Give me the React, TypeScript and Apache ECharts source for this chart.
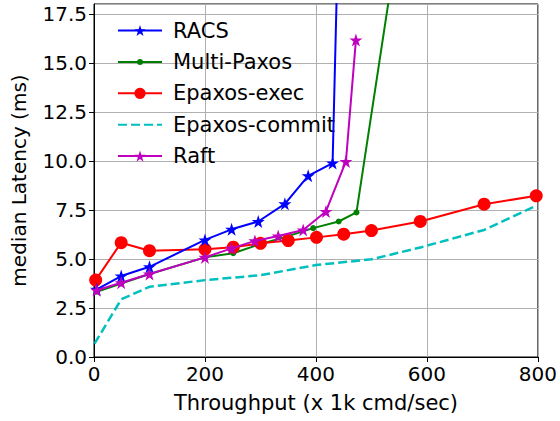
import React, { useEffect, useRef } from "react";
import * as echarts from "echarts";

const racsX = [5, 49, 100, 200, 248, 296, 344, 386, 430, 440];
const racsY = [3.45, 4.13, 4.6, 5.97, 6.51, 6.91, 7.81, 9.24, 9.89, 21.5];

const paxosX = [5, 49, 100, 200, 251, 299, 347, 395, 441, 473, 550];
const paxosY = [3.33, 3.75, 4.23, 5.08, 5.29, 5.75, 6.14, 6.57, 6.91, 7.37, 21.7];

const execX = [3, 49, 100, 200, 251, 300, 350, 401, 450, 500, 588, 703, 797];
const execY = [3.92, 5.83, 5.42, 5.49, 5.6, 5.8, 5.94, 6.1, 6.26, 6.45, 6.91, 7.79, 8.22];

const commitX = [1, 49, 100, 200, 300, 400, 500, 590, 703, 797];
const commitY = [0.68, 2.94, 3.58, 3.92, 4.17, 4.69, 4.98, 5.6, 6.48, 7.71];

const raftX = [5, 49, 100, 200, 248, 290, 332, 377, 418, 454, 472];
const raftY = [3.4, 3.79, 4.23, 5.08, 5.54, 5.92, 6.17, 6.48, 7.42, 9.97, 16.16];

const xTicks = { min: 0, max: 800, interval: 200 };
const yTicks = { min: 0, max: 18, interval: 2.5 };

const STAR =
  "path://M50,0 L61.8,35.5 L99,35.5 L69,57.5 L80.5,93 L50,71 L19.5,93 L31,57.5 L1,35.5 L38.2,35.5 Z";

const LINE_DOT =
  "path://M0,0 L0.1,0 L0,0.1 Z M440,140 L439.9,140 L440,139.9 Z M0,60 L440,60 L440,80 L0,80 Z M190,70 A30,30 0 1,1 250,70 A30,30 0 1,1 190,70 Z";

const FONT = "DejaVu Sans";

function pairs(xs: number[], ys: number[]) {
  return xs.map((x, i) => [x, ys[i]]);
}

export default function App() {
  const ref = useRef<HTMLDivElement>(null);
  useEffect(() => {
    if (!ref.current) return;
    const chart = echarts.init(ref.current, undefined, { renderer: "svg" });
    const axisCommon = {
      axisLine: { show: true, onZero: false, lineStyle: { color: "#000", width: 1 } },
      axisTick: { show: true, inside: false, length: 5, lineStyle: { color: "#000" } },
      splitLine: { show: true, lineStyle: { color: "#b0b0b0", width: 1 } },
    };
    chart.setOption({
      animation: false,
      backgroundColor: "#fff",
      grid: {
        left: 94,
        right: 22,
        top: 4,
        bottom: 64,
        show: true,
        borderColor: "#000",
        borderWidth: 1,
        backgroundColor: "transparent",
      },
      xAxis: {
        type: "value",
        ...xTicks,
        ...axisCommon,
        name: "Throughput (x 1k cmd/sec)",
        nameLocation: "middle",
        nameGap: 35,
        nameTextStyle: { fontFamily: FONT, fontSize: 21, color: "#000" },
        axisLabel: { fontFamily: FONT, fontSize: 20, color: "#000", margin: 7 },
      },
      yAxis: {
        type: "value",
        ...yTicks,
        ...axisCommon,
        name: "median Latency (ms)",
        nameLocation: "middle",
        nameGap: 65,
        nameTextStyle: { fontFamily: FONT, fontSize: 20, color: "#000" },
        axisLabel: {
          fontFamily: FONT,
          fontSize: 20,
          color: "#000",
          margin: 7,
          showMaxLabel: false,
          formatter: (v: number) => v.toFixed(1),
        },
      },
      legend: {
        orient: "vertical",
        left: 112,
        top: 15,
        itemWidth: 44,
        itemHeight: 14,
        itemGap: 10.4,
        backgroundColor: "transparent",
        textStyle: {
          fontFamily: FONT,
          fontSize: 21,
          color: "#000",
          lineHeight: 20,
          padding: [0, 0, 0, 6],
        },
        data: [
          "RACS",
          { name: "Multi-Paxos", icon: LINE_DOT },
          "Epaxos-exec",
          { name: "Epaxos-commit", itemStyle: { opacity: 0 } },
          "Raft",
        ],
      },
      series: [
        {
          name: "RACS",
          type: "line",
          data: pairs(racsX, racsY),
          symbol: STAR,
          symbolSize: 13,
          showAllSymbol: true,
          lineStyle: { color: "#0000ff", width: 2 },
          itemStyle: { color: "#0000ff" },
          z: 5,
        },
        {
          name: "Multi-Paxos",
          type: "line",
          data: pairs(paxosX, paxosY),
          symbol: "circle",
          symbolSize: 6,
          showAllSymbol: true,
          lineStyle: { color: "#008000", width: 2 },
          itemStyle: { color: "#008000" },
          z: 2,
        },
        {
          name: "Epaxos-exec",
          type: "line",
          data: pairs(execX, execY),
          symbol: "circle",
          symbolSize: 13,
          showAllSymbol: true,
          lineStyle: { color: "#ff0000", width: 2 },
          itemStyle: { color: "#ff0000" },
          z: 3,
        },
        {
          name: "Epaxos-commit",
          type: "line",
          data: pairs(commitX, commitY),
          symbol: "none",
          lineStyle: { color: "#00bfbf", width: 2.5, type: [9, 4] },
          itemStyle: { color: "#00bfbf" },
          z: 4,
        },
        {
          name: "Raft",
          type: "line",
          data: pairs(raftX, raftY),
          symbol: STAR,
          symbolSize: 13,
          showAllSymbol: true,
          lineStyle: { color: "#bf00bf", width: 2 },
          itemStyle: { color: "#bf00bf" },
          z: 6,
        },
      ],
    });
    return () => chart.dispose();
  }, []);
  return <div ref={ref} style={{ width: 560, height: 421, position: "absolute", left: 0, top: 0 }} />;
}
